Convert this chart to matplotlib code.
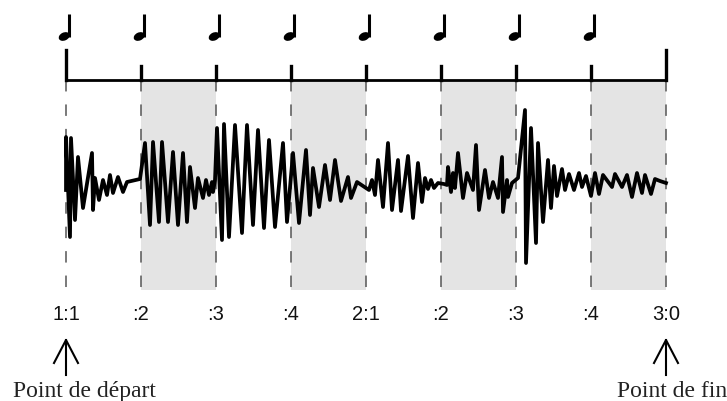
import matplotlib
matplotlib.use("Agg")
import matplotlib.pyplot as plt
from matplotlib.patches import Ellipse, Rectangle

# Beat grid (one quarter note per beat)
TICKS_PER_BEAT = 75
beat_labels = ["1:1", ":2", ":3", ":4", "2:1", ":2", ":3", ":4", "3:0"]
note_beats = [0, 1, 2, 3, 4, 5, 6, 7]
shaded_beats = [1, 3, 5, 7]

# Waveform samples: position in ticks, amplitude
wave_tick = [0, 0, 4, 5, 9, 12, 17, 26, 27, 29, 33, 37, 41, 44, 47, 52, 57, 61, 74,
             79, 84, 87, 93, 96, 102, 107, 112, 117, 121, 124, 129, 132, 137, 140, 143, 146, 147, 149,
             151, 156, 158, 163, 169, 176, 181, 187, 192, 198, 203, 209, 217, 221,
             227, 233, 240, 244, 247, 253, 259, 264, 269, 275, 282, 285, 291, 303,
             306, 309, 312, 317, 322, 326, 332, 335, 342, 347, 352, 356, 359, 362, 365, 368, 372, 378,
             381, 382, 385, 387, 389, 392, 397, 401, 407, 410, 413, 419, 423, 427, 432, 436, 437, 441, 442, 446, 452,
             459, 460, 465, 470, 472, 477, 482, 485, 488, 491, 496, 499, 503, 508, 513, 516, 520, 525,
             529, 533, 537, 546, 549, 556, 561, 566, 571, 576, 579, 585, 589, 594, 600]
wave_amp = [-5, 48, -52, 47, -35, 28, -23, 32, -25, 7, -15, 5, -10, 10, -8, 8, -7, 3, 6,
            42, -40, 43, -37, 43, -37, 33, -40, 32, -37, 18, -23, 7, -13, 5, -10, 3, -7, 5,
            57, -55, 61, -52, 60, -48, 60, -40, 55, -43, 45, -42, 42, -37,
            32, -38, 35, -30, 17, -22, 20, -15, 25, -16, 8, -13, 3, -5,
            5, -10, 25, -22, 42, -25, 25, -26, 29, -33, 22, -17, 7, -4, 5, -3, 2, 1,
            0, 18, -7, 12, -3, 32, -13, 12, -5, 40, -25, 15, -13, 3, -13, 28, -27, 5, -12, 2, 7,
            75, -78, 57, -58, 42, -37, 25, -23, 19, -11, 16, -5, 11, -5, 12, -2, 9, -11,
            12, -9, 10, -2, 11, -2, 10, -12, 12, -8, 10, -9, 6, 4, 2]

fig = plt.figure(figsize=(7.27, 4.01), dpi=100)
ax = fig.add_axes([0, 0, 1, 1])
ax.set_xlim(-66, 661)
ax.set_ylim(-216, 185)
ax.axis("off")

beat_ticks = [b * TICKS_PER_BEAT for b in range(len(beat_labels))]

# shaded beats
for b in shaded_beats:
    ax.add_patch(Rectangle((b * TICKS_PER_BEAT, -105), TICKS_PER_BEAT, 210,
                           facecolor="#e4e4e4", edgecolor="none", zorder=0))

# dashed beat lines
for t in beat_ticks:
    ax.plot([t, t], [105, -112], color="#555555", lw=1.1,
            linestyle=(0, (7.5, 8.5)), zorder=1)

# waveform
ax.plot(wave_tick, wave_amp, color="black", lw=2.7, zorder=3)

# bracket
ax.plot([beat_ticks[0], beat_ticks[-1]], [105, 105], color="black", lw=2, zorder=2)
for i, t in enumerate(beat_ticks):
    top = 135 if i in (0, len(beat_ticks) - 1) else 119
    ax.plot([t, t], [105, top], color="black", lw=2.4, zorder=2)

# quarter notes
for b in note_beats:
    t = b * TICKS_PER_BEAT
    ax.add_patch(Ellipse((t - 1.8, 148.5), width=11.5, height=8, angle=25,
                         facecolor="black", edgecolor="none", zorder=3))
    ax.plot([t + 2.6, t + 2.6], [148, 171], color="black", lw=2.2,
            solid_capstyle="butt", zorder=3)

# beat labels
for t, lab in zip(beat_ticks, beat_labels):
    ax.text(t, -130, lab, ha="center", va="center", fontsize=14.5,
            family="Liberation Sans", color="#111111")

# start / end arrows
for t in (beat_ticks[0], beat_ticks[-1]):
    ax.plot([t, t], [-190, -155], color="black", lw=1.5)
    ax.plot([t - 12, t, t + 12], [-178, -155, -178], color="black", lw=1.5)

ax.text(-53, -212, "Point de départ", ha="left", va="baseline", fontsize=17,
        family="Liberation Serif", color="#222222")
ax.text(661, -212, "Point de fin", ha="right", va="baseline", fontsize=17,
        family="Liberation Serif", color="#222222")

fig.savefig("out.png", dpi=100)
